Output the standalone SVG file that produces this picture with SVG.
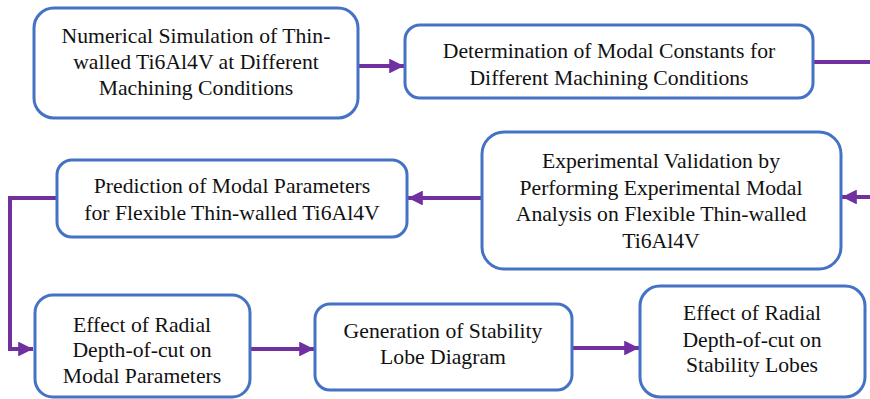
<svg xmlns="http://www.w3.org/2000/svg" width="870" height="399" viewBox="0 0 870 399">
  <defs>
    <style>
      .box { fill: #ffffff; stroke: #4472C4; stroke-width: 3; }
      .lbl { font-family: "Liberation Serif", "Times New Roman", serif; font-size: 21.7px; fill: #111111; text-anchor: middle; }
      .wire { fill: none; stroke: #7030A0; stroke-width: 4; }
    </style>
    <marker id="head" viewBox="0 0 10 10" refX="10" refY="5" markerWidth="3.7" markerHeight="3.7" orient="auto" markerUnits="strokeWidth">
      <path d="M0,0 L10,5 L0,10 Z" fill="#7030A0"/>
    </marker>
  </defs>

  <rect width="870" height="399" fill="#ffffff"/>

  <!-- flow arrows between the process steps -->
  <g id="connectors">
    <path class="wire" d="M359,66 L404,66" marker-end="url(#head)"/>
    <path class="wire" d="M813,62 L870,62"/>
    <path class="wire" d="M870,197 L842,197" marker-end="url(#head)"/>
    <path class="wire" d="M482,198 L408,198" marker-end="url(#head)"/>
    <path class="wire" d="M57,198 L10,198 L10,349 L33,349" marker-end="url(#head)"/>
    <path class="wire" d="M250,349 L314,349" marker-end="url(#head)"/>
    <path class="wire" d="M572,348 L639,348" marker-end="url(#head)"/>
  </g>

  <!-- process steps -->
  <g id="n1">
    <rect class="box" x="34" y="8" width="324" height="110" rx="20"/>
    <text class="lbl" x="196" y="43">Numerical Simulation of Thin-</text>
    <text class="lbl" x="196" y="69">walled Ti6Al4V at Different</text>
    <text class="lbl" x="196" y="95">Machining Conditions</text>
  </g>

  <g id="n2">
    <rect class="box" x="405" y="25" width="408" height="73" rx="15"/>
    <text class="lbl" x="609" y="58">Determination of Modal Constants for</text>
    <text class="lbl" x="609" y="85">Different Machining Conditions</text>
  </g>

  <g id="n3">
    <rect class="box" x="57" y="160" width="350" height="77" rx="15"/>
    <text class="lbl" x="232" y="193">Prediction of Modal Parameters</text>
    <text class="lbl" x="232" y="220">for Flexible Thin-walled Ti6Al4V</text>
  </g>

  <g id="n4">
    <rect class="box" x="482" y="132" width="359" height="137" rx="22"/>
    <text class="lbl" x="661" y="168">Experimental Validation by</text>
    <text class="lbl" x="661" y="195">Performing Experimental Modal</text>
    <text class="lbl" x="661" y="221">Analysis on Flexible Thin-walled</text>
    <text class="lbl" x="661" y="248">Ti6Al4V</text>
  </g>

  <g id="n5">
    <rect class="box" x="35" y="295" width="215" height="102" rx="18"/>
    <text class="lbl" x="142" y="332">Effect of Radial</text>
    <text class="lbl" x="142" y="357">Depth-of-cut on</text>
    <text class="lbl" x="142" y="383">Modal Parameters</text>
  </g>

  <g id="n6">
    <rect class="box" x="315" y="304" width="257" height="86" rx="15"/>
    <text class="lbl" x="443" y="338">Generation of Stability</text>
    <text class="lbl" x="443" y="364">Lobe Diagram</text>
  </g>

  <g id="n7">
    <rect class="box" x="640" y="286" width="225" height="111" rx="20"/>
    <text class="lbl" x="752" y="320">Effect of Radial</text>
    <text class="lbl" x="752" y="347">Depth-of-cut on</text>
    <text class="lbl" x="752" y="372">Stability Lobes</text>
  </g>
</svg>
